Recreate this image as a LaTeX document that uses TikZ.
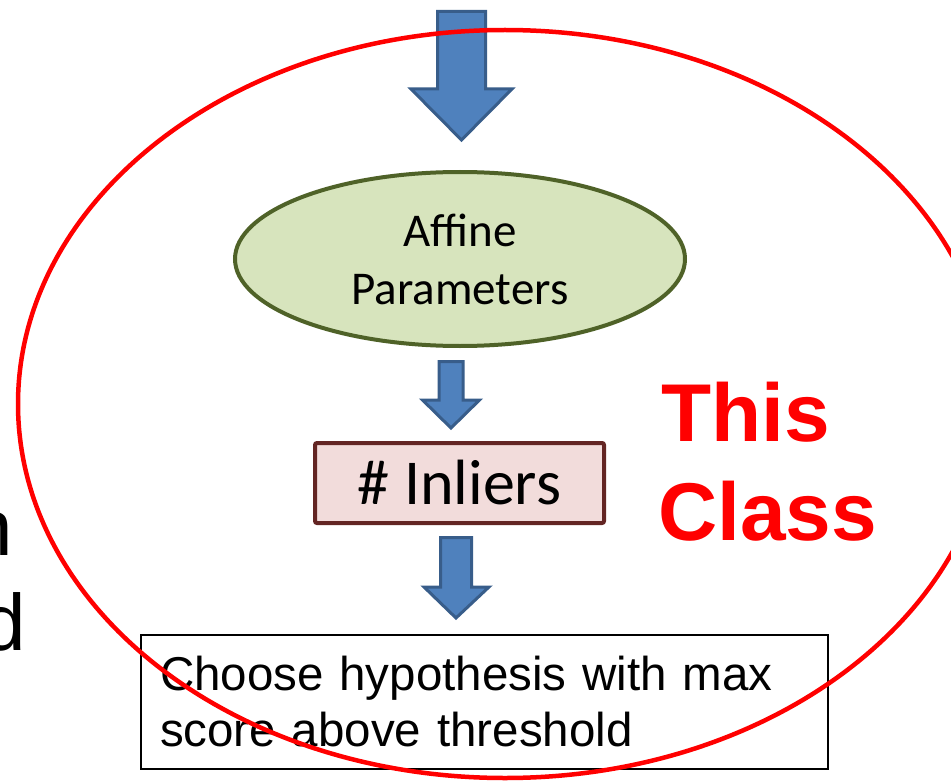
\documentclass[tikz,border=0pt]{standalone}
\usepackage{fontspec}
\setmainfont{Liberation Sans}
\newfontfamily\calibri{Carlito}
\usetikzlibrary{shapes.geometric}
\definecolor{arrowfill}{HTML}{4F81BD}
\definecolor{arrowline}{HTML}{385D8A}
\definecolor{ellfill}{HTML}{D7E4BD}
\definecolor{ellline}{HTML}{4F6228}
\definecolor{boxfill}{HTML}{F2DCDB}
\definecolor{boxline}{HTML}{632523}
\begin{document}
\begin{tikzpicture}[x=1pt,y=-1pt,
  blockarrow/.style={fill=arrowfill,draw=arrowline,line width=3pt,line join=miter},
  plain/.style={inner sep=0pt,outer sep=0pt}]
\useasboundingbox (0,0) rectangle (951,781);
\clip (0,0) rectangle (951,781);

% partial text at left edge
\node[plain,anchor=base east,font=\fontsize{80}{96}\selectfont] (leftn) at (12.5,555) {n};
\node[plain,anchor=base east,font=\fontsize{80}{96}\selectfont] (leftd) at (25.5,650) {d};

% ellipse
\node[ellipse,draw=ellline,fill=ellfill,line width=4pt,minimum width=450pt,minimum height=174pt,
      inner sep=0pt,align=center,font=\calibri\fontsize{47}{58}\selectfont] (affine) at (460,259) {Affine\\Parameters};

% inliers box
\node[draw=boxline,fill=boxfill,line width=4pt,rounded corners=2pt,minimum width=289pt,minimum height=80pt,
      inner sep=0pt,font=\calibri\fontsize{64}{70}\selectfont] (inl) at (459.5,483) {\# Inliers};

% choose box
\node[draw=black,line width=2pt,minimum width=687pt,minimum height=134pt,inner sep=0pt,
      text width=649pt,align=left,font=\fontsize{47.5}{56}\selectfont] (choose) at (484.5,702)
      {Choose hypothesis with max\\score above threshold};

% block arrows
\draw[blockarrow] (437.5,11.5) -- (485.5,11.5) -- (485.5,89) -- (512,89) -- (461.5,140)
   -- (411,89) -- (437.5,89) -- cycle;
\draw[blockarrow] (439,361.5) -- (463,361.5) -- (463,400) -- (479.5,400) -- (451,428)
   -- (422.5,400) -- (439,400) -- cycle;
\draw[blockarrow] (440.5,537.5) -- (471.5,537.5) -- (471.5,587) -- (489,587) -- (456,618)
   -- (424,587) -- (440.5,587) -- cycle;

% This Class
\node[plain,anchor=base west,text=red,font=\bfseries\fontsize{82}{96}\selectfont] (this) at (661,441) {This};
\node[plain,anchor=base west,text=red,font=\bfseries\fontsize{82}{96}\selectfont] (class) at (658,540) {Class};

% red ellipse
\node[ellipse,draw=red,line width=4.5pt,minimum width=974pt,minimum height=748pt,inner sep=0pt] (cls) at (505,404) {};
\end{tikzpicture}
\end{document}
